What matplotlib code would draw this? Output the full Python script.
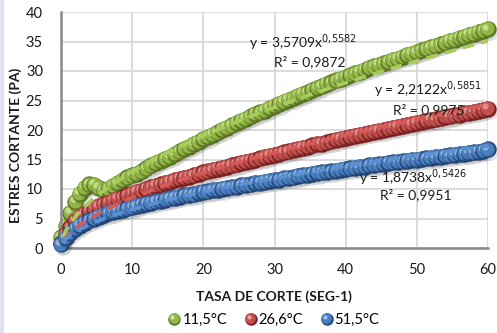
import numpy as np
import matplotlib
matplotlib.use("Agg")
import matplotlib.pyplot as plt
from matplotlib import transforms
from matplotlib.lines import Line2D
from matplotlib.legend_handler import HandlerBase

plt.rcParams['font.family'] = ['Lato', 'DejaVu Sans']

# Shear rate (1/s) and measured shear stress (Pa) at three temperatures
shear_rate = np.round(np.linspace(0, 60, 91), 2)
stress_11_5 = [1.8, 3.8, 6.0, 7.8, 9.2, 10.2, 10.8, 10.7, 10.2, 9.8,
               10.0, 10.5, 11.0, 11.5, 12.0, 12.3, 12.6, 13.0, 13.5, 14.0,
               14.4, 14.8, 15.1, 15.5, 15.9, 16.4, 16.8, 17.2, 17.6, 18.0,
               18.5, 18.8, 19.2, 19.6, 20.0, 20.4, 20.8, 21.2, 21.6, 21.9,
               22.3, 22.7, 23.0, 23.3, 23.7, 24.1, 24.4, 24.8, 25.1, 25.4,
               25.8, 26.1, 26.4, 26.8, 27.1, 27.4, 27.8, 28.1, 28.4, 28.7,
               29.0, 29.3, 29.6, 29.9, 30.2, 30.5, 30.8, 31.1, 31.3, 31.6,
               31.9, 32.1, 32.4, 32.7, 32.9, 33.2, 33.5, 33.7, 34.0, 34.3,
               34.5, 34.8, 35.1, 35.3, 35.6, 35.8, 36.1, 36.3, 36.6, 36.8,
               37.1]
stress_26_6 = [0.8, 2.3, 3.5, 4.6, 5.3, 5.8, 6.3, 6.7, 7.1, 7.4,
               7.7, 8.0, 8.3, 8.6, 8.9, 9.2, 9.5, 9.7, 10.0, 10.3,
               10.5, 10.8, 11.0, 11.2, 11.5, 11.7, 11.9, 12.1, 12.3, 12.6,
               12.8, 13.0, 13.2, 13.4, 13.6, 13.8, 14.0, 14.2, 14.4, 14.6,
               14.8, 15.0, 15.2, 15.4, 15.6, 15.8, 16.0, 16.2, 16.4, 16.6,
               16.8, 17.0, 17.2, 17.4, 17.6, 17.7, 17.9, 18.1, 18.3, 18.5,
               18.7, 18.8, 19.0, 19.2, 19.4, 19.5, 19.7, 19.9, 20.0, 20.2,
               20.4, 20.5, 20.7, 20.9, 21.0, 21.2, 21.4, 21.5, 21.7, 21.8,
               22.0, 22.2, 22.3, 22.5, 22.6, 22.8, 22.9, 23.1, 23.2, 23.4,
               23.6]
stress_51_5 = [0.6, 1.7, 2.6, 3.3, 3.8, 4.3, 4.7, 5.0, 5.3, 5.6,
               5.9, 6.1, 6.3, 6.5, 6.7, 6.9, 7.1, 7.3, 7.5, 7.7,
               7.9, 8.0, 8.2, 8.4, 8.5, 8.7, 8.9, 9.0, 9.1, 9.3,
               9.5, 9.6, 9.8, 9.9, 10.0, 10.2, 10.3, 10.4, 10.6, 10.7,
               10.8, 11.0, 11.1, 11.2, 11.4, 11.5, 11.6, 11.8, 11.9, 12.0,
               12.2, 12.3, 12.4, 12.6, 12.7, 12.8, 12.9, 13.0, 13.1, 13.3,
               13.4, 13.5, 13.6, 13.7, 13.8, 14.0, 14.1, 14.2, 14.3, 14.4,
               14.5, 14.6, 14.7, 14.8, 14.9, 15.0, 15.1, 15.2, 15.3, 15.4,
               15.5, 15.6, 15.7, 15.8, 15.9, 16.0, 16.1, 16.2, 16.3, 16.5,
               16.7]

labels = ['11,5°C', '26,6°C', '51,5°C']
# Power-law fits y = a * x^b
fit_a = [3.5709, 2.2122, 1.8738]
fit_b = [0.5582, 0.5851, 0.5426]
fit_r2 = ['0,9872', '0,9975', '0,9951']

# (dark, base, light, dash) colours for each series
palette = [
    ('#5f7a26', '#93b648', '#d2ea9c', '#a8cc5c'),
    ('#7f2422', '#c0504d', '#efa3a0', '#d85a56'),
    ('#24497a', '#4a7ebd', '#a6c6ee', '#5b90d2'),
]

fig = plt.figure(figsize=(4.97, 3.33), dpi=100)
fig.patches.append(plt.Rectangle((0, 0), 3 / 497, 1, transform=fig.transFigure,
                                 color='#e4dfec', zorder=0))
ax = fig.add_axes([61 / 497, 85 / 333, 427 / 497, 236 / 333])
ax.set_xlim(0, 60)
ax.set_ylim(0, 40)
ax.set_xticks(range(0, 61, 10))
ax.set_yticks(range(0, 41, 5))
ax.grid(True, color='#d9d9d9', linewidth=1.3)
ax.set_axisbelow(True)
for side in ('top', 'right'):
    ax.spines[side].set_visible(False)
for side in ('left', 'bottom'):
    ax.spines[side].set_color('#898989')
    ax.spines[side].set_linewidth(1.8)
ax.tick_params(length=0, labelsize=10.5, colors='#1a1a1a')
ax.tick_params(axis='x', pad=11)
ax.tick_params(axis='y', pad=13)

shadow_tr = transforms.offset_copy(ax.transData, fig=fig, x=1.5, y=-2.5, units='dots')
mid_tr = transforms.offset_copy(ax.transData, fig=fig, x=-0.7, y=0.7, units='dots')
hi_tr = transforms.offset_copy(ax.transData, fig=fig, x=-2.6, y=2.6, units='dots')

series = [stress_11_5, stress_26_6, stress_51_5]
z = 2.0
for ys, (dark, base, light, dash) in zip(series, palette):
    for x, y in zip(shear_rate, ys):
        ax.scatter([x], [y], s=150, color='#000000', alpha=0.10, linewidths=0,
                   transform=shadow_tr, zorder=z, clip_on=False)
        ax.scatter([x], [y], s=140, color=dark, linewidths=0, zorder=z + 0.001, clip_on=False)
        ax.scatter([x], [y], s=100, color=base, linewidths=0, transform=mid_tr,
                   zorder=z + 0.002, clip_on=False)
        ax.scatter([x], [y], s=20, color=light, alpha=0.75, linewidths=0, transform=hi_tr,
                   zorder=z + 0.003, clip_on=False)
        z += 0.01

xf = np.linspace(0.3, 60, 200)
for a, b, (_, _, _, dash) in zip(fit_a, fit_b, palette):
    ax.plot(xf, a * xf ** b, color=dash, linewidth=2.6, dashes=(3.2, 2.0), zorder=z + 1)

# fit equations
eq_pos = [(303, 43, 310, 62), (428, 90, 429, 110), (413, 178, 416, 195)]
for a, b, r2, (ex, ey, rx, ry) in zip(fit_a, fit_b, fit_r2, eq_pos):
    a_s = f'{a:.4f}'.replace('.', ',')
    b_s = f'{b:.4f}'.replace('.', '{,}')
    fig.text(ex / 497, 1 - ey / 333, f'y = {a_s}x$^{{{b_s}}}$', ha='center', va='center',
             fontsize=10, color='#1a1a1a', zorder=20)
    fig.text(rx / 497, 1 - ry / 333, f'R² = {r2}', ha='center', va='center',
             fontsize=10, color='#1a1a1a', zorder=20)

fig.text(274 / 497, 1 - 297 / 333, 'TASA DE CORTE (SEG-1)', ha='center', va='center',
         fontsize=10, fontweight='bold', color='#1a1a1a')
fig.text(16 / 497, 1 - 145 / 333, 'ESTRES CORTANTE (PA)', ha='center', va='center',
         rotation=90, fontsize=10, fontweight='bold', color='#1a1a1a')


class BallHandler(HandlerBase):
    def __init__(self, cols):
        super().__init__()
        self.cols = cols

    def create_artists(self, legend, orig, xd, yd, width, height, fontsize, trans):
        dark, base, light, _ = self.cols
        cx, cy = width / 2 - xd, height / 2 - yd
        a1 = Line2D([cx], [cy], marker='o', markersize=9, color=dark, linestyle='none',
                    markeredgewidth=0, transform=trans)
        a2 = Line2D([cx - 0.4], [cy + 0.4], marker='o', markersize=7.6, color=base,
                    linestyle='none', markeredgewidth=0, transform=trans)
        a3 = Line2D([cx - 1.4], [cy + 1.4], marker='o', markersize=3, color=light,
                    linestyle='none', markeredgewidth=0, transform=trans)
        return [a1, a2, a3]


handles = [Line2D([], []) for _ in labels]
fig.legend(handles, labels, loc='center', bbox_to_anchor=(274 / 497, 1 - 320 / 333),
           ncol=3, frameon=False, fontsize=10.5, handlelength=0.8, handletextpad=0.15,
           columnspacing=1.2,
           handler_map={h: BallHandler(c) for h, c in zip(handles, palette)})

fig.savefig('out.png', dpi=100)
